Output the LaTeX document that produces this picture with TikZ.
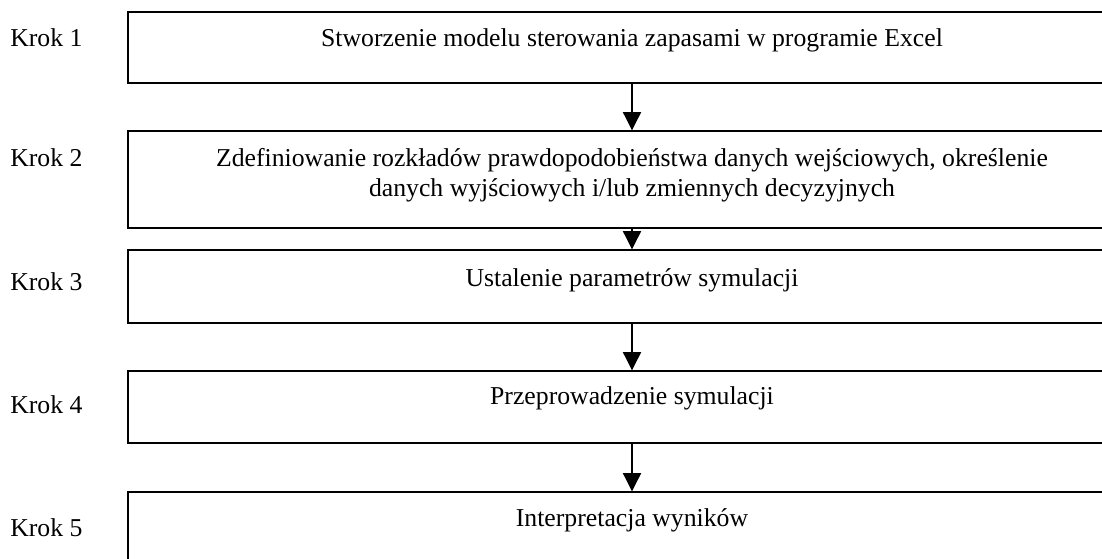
\documentclass[tikz,border=0pt]{standalone}
\usepackage{fontspec}
\setmainfont{Liberation Serif}
\usetikzlibrary{arrows.meta}
\begin{document}
\begin{tikzpicture}[x=0.025cm,y=-0.025cm,
    every node/.style={font=\fontsize{18.3}{21.3}\selectfont},
    stepbox/.style={draw,line width=1pt,minimum width=25.2cm,inner sep=0pt},
    steptext/.style={align=center,inner sep=0pt},
    kroklabel/.style={anchor=west,inner sep=0pt},
    flow/.style={line width=0.8pt,-{Triangle[width=13pt,length=13pt]}}]
    \useasboundingbox (0,0) rectangle (1102,558);
    \clip (0,0) rectangle (1102,558);
    %% boxes
    \node[stepbox,minimum height=1.775cm] (s1) at (632,47.5) {};
    \node[stepbox,minimum height=2.425cm] (s2) at (632,179.5) {};
    \node[stepbox,minimum height=1.825cm] (s3) at (632,286.5) {};
    \node[stepbox,minimum height=1.8cm] (s4) at (632,407) {};
    \node[stepbox,minimum height=2.7cm] (s5) at (632,546) {};
    %% texts in the boxes
    \node[steptext] (t1) at (632,40) {Stworzenie modelu sterowania zapasami w programie Excel};
    \node[steptext] (t2) at (632,175) {Zdefiniowanie rozkładów prawdopodobieństwa danych wejściowych, określenie\\danych wyjściowych i/lub zmiennych decyzyjnych};
    \node[steptext] (t3) at (632,280) {Ustalenie parametrów symulacji};
    \node[steptext] (t4) at (632,398) {Przeprowadzenie symulacji};
    \node[steptext] (t5) at (632,520) {Interpretacja wyników};
    %% Krok labels
    \node[kroklabel] (k1) at (10,38) {Krok 1};
    \node[kroklabel] (k2) at (10,158) {Krok 2};
    \node[kroklabel] (k3) at (10,282) {Krok 3};
    \node[kroklabel] (k4) at (10,405) {Krok 4};
    \node[kroklabel] (k5) at (10,528) {Krok 5};
    %% arrows
    \foreach \a/\b in {s1/s2,s2/s3,s3/s4,s4/s5} \draw[flow] (\a.south) -- (\b.north);
\end{tikzpicture}
\end{document}
